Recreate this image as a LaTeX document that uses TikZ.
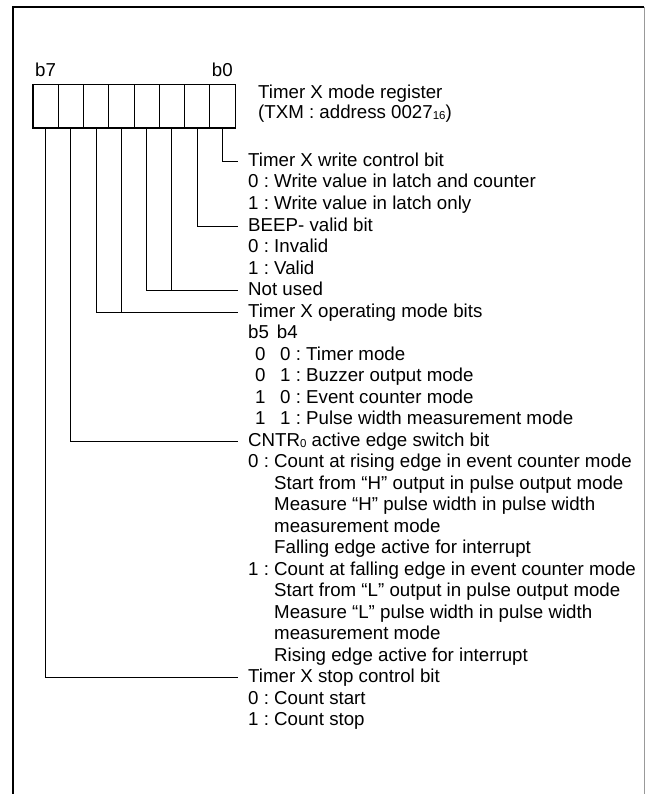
\documentclass[tikz,border=0pt]{standalone}
\usepackage{fontspec}
\setmainfont{Liberation Sans}
\frenchspacing
\newcommand{\smallsub}[1]{\raisebox{-1pt}{\fontsize{11.5pt}{12pt}\selectfont #1}}
\begin{document}
\begin{tikzpicture}[x=1pt,y=-1pt,
  txt/.style={font=\fontsize{18.7pt}{21.5pt}\selectfont},
  cell/.style={draw, line width=1pt, minimum width=25.25pt, minimum height=43pt, inner sep=0pt},
  row/.style={txt, anchor=west, inner xsep=11pt, inner ysep=0pt, text height=13.4pt, text depth=3.9pt},
  lbl/.style={txt, anchor=base, inner sep=0pt},
  title/.style={txt, anchor=base west, inner sep=0pt},
  conn/.style={line width=1pt, line cap=rect},
]
\useasboundingbox (0,0) rectangle (645,794);
% frame
\draw[line width=2pt] (13,794) -- (13,7) -- (644,7);
\draw[line width=1pt, black!40] (644,7) -- (644,794);

% register cells (c7 = b7 at left, c0 = b0 at right)
\foreach \i in {0,...,7} \node[cell] (c\i) at ({222.375-25.25*\i},106.5) {};
\draw[line width=1.8pt] (c7.north west) rectangle (c0.south east);

\node[lbl] (b7) at ([yshift=8pt]c7.north) {b7};
\node[lbl] (b0) at ([yshift=8pt]c0.north) {b0};

\node[title] (t1) at (258,98.5) {Timer X mode register};
\node[title] (t2) at (258,118.5) {(TXM : address 0027\smallsub{16})};

% rows
\node[row] (r0)  at (237,161.75) {Timer X write control bit};
\node[row] (r1)  at (237,183.25) {0 : Write value in latch and counter};
\node[row] (r2)  at (237,204.75) {1 : Write value in latch only};
\node[row] (r3)  at (237,226.25) {BEEP- valid bit};
\node[row] (r4)  at (237,247.75) {0 : Invalid};
\node[row] (r5)  at (237,269.25) {1 : Valid};
\node[row] (r6)  at (237,290.75) {Not used};
\node[row] (r7)  at (237,312.25) {Timer X operating mode bits};
\node[row] (r8)  at (237,333.75) {b5\hspace*{8pt}b4};
\node[row] (r9)  at (237,355.25) {\hspace*{7pt}0\hspace*{14.6pt}0 : Timer mode};
\node[row] (r10) at (237,376.75) {\hspace*{7pt}0\hspace*{14.6pt}1 : Buzzer output mode};
\node[row] (r11) at (237,398.25) {\hspace*{7pt}1\hspace*{14.6pt}0 : Event counter mode};
\node[row] (r12) at (237,419.75) {\hspace*{7pt}1\hspace*{14.6pt}1 : Pulse width measurement mode};
\node[row] (r13) at (237,441.25) {CNTR\smallsub{0} active edge switch bit};
\node[row] (r14) at (237,462.75) {0 : Count at rising edge in event counter mode};
\node[row] (r15) at (237,484.25) {\phantom{0 :} Start from “H” output in pulse output mode};
\node[row] (r16) at (237,505.75) {\phantom{0 :} Measure “H” pulse width in pulse width};
\node[row] (r17) at (237,527.25) {\phantom{0 :} measurement mode};
\node[row] (r18) at (237,548.75) {\phantom{0 :} Falling edge active for interrupt};
\node[row] (r19) at (237,570.25) {1 : Count at falling edge in event counter mode};
\node[row] (r20) at (237,591.75) {\phantom{1 :} Start from “L” output in pulse output mode};
\node[row] (r21) at (237,613.25) {\phantom{1 :} Measure “L” pulse width in pulse width};
\node[row] (r22) at (237,634.75) {\phantom{1 :} measurement mode};
\node[row] (r23) at (237,656.25) {\phantom{1 :} Rising edge active for interrupt};
\node[row] (r24) at (237,677.75) {Timer X stop control bit};
\node[row] (r25) at (237,699.25) {0 : Count start};
\node[row] (r26) at (237,720.75) {1 : Count stop};

% connectors
\draw[conn] (c0.south) |- (r0.west);
\draw[conn] (c1.south) |- (r3.west);
\draw[conn] (c3.south) |- (r6.west);
\draw[conn] (c2.south) -- (c2.south |- r6.west);
\draw[conn] (c5.south) |- (r7.west);
\draw[conn] (c4.south) -- (c4.south |- r7.west);
\draw[conn] (c6.south) |- (r13.west);
\draw[conn] (c7.south) |- (r24.west);
\end{tikzpicture}
\end{document}
